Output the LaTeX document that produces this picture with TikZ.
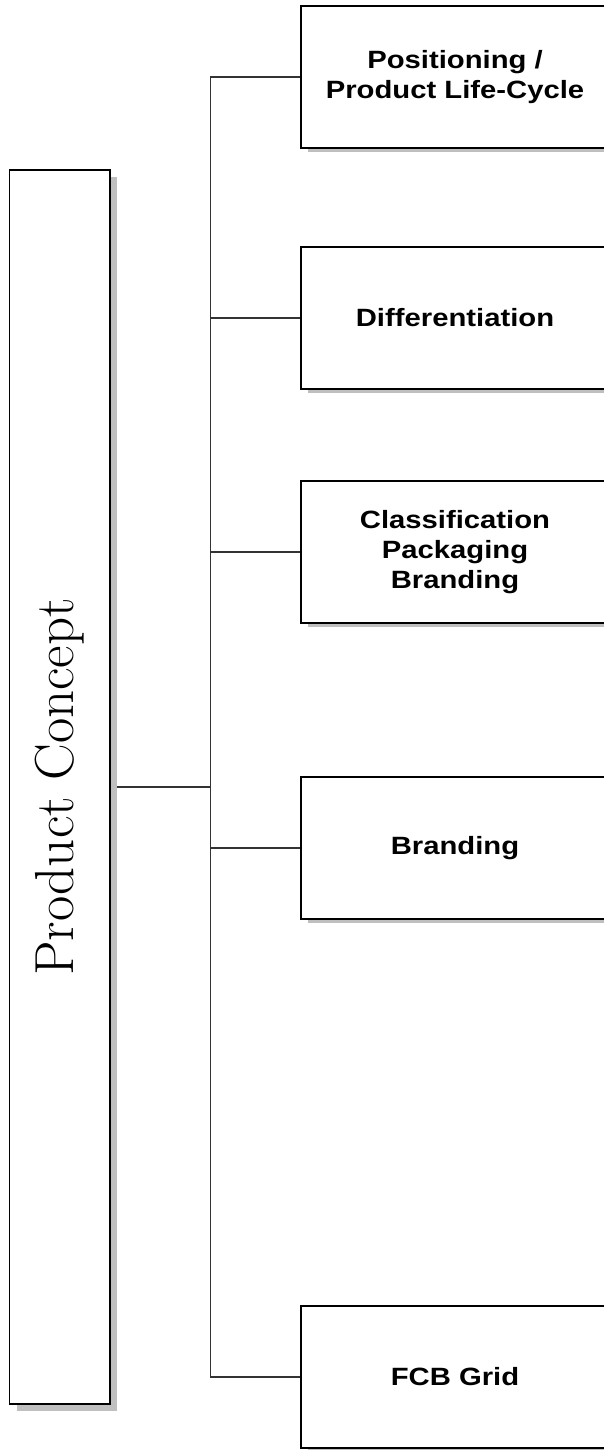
\documentclass[tikz,border=0pt]{standalone}
\usepackage{fontspec}
\newfontfamily\boxfont{Liberation Sans}[FakeStretch=1.17]
\usetikzlibrary{shadows,backgrounds}

\tikzset{
  item/.style={draw, line width=1.5pt, fill=white, minimum width=308pt, minimum height=142pt,
    align=center, font=\boxfont\bfseries\fontsize{25}{30}\selectfont,
    drop shadow={shadow xshift=7pt, shadow yshift=-4pt, fill=black!25, opacity=1}},
  concept/.style={draw, line width=1.5pt, fill=white, minimum width=100.5pt, minimum height=1234pt,
    inner sep=0pt, font=\fontsize{55}{66}\selectfont,
    drop shadow={shadow xshift=7pt, shadow yshift=-7pt, fill=black!25, opacity=1}},
  link/.style={draw=black!80, line width=1.3pt}
}

\begin{document}
\begin{tikzpicture}[x=1pt,y=-1pt]
  \useasboundingbox (0,0) rectangle (603,1450);

  \node[concept] (concept) at (59.75,787) {\rotatebox{90}{Product Concept}};

  \node[item] (pos)   at (455,77)    {Positioning /\\Product Life-Cycle};
  \node[item] (diff)  at (455,318)   {Differentiation};
  \node[item] (class) at (455,552)   {Classification\\Packaging\\Branding};
  \node[item] (brand) at (455,848)   {Branding};
  \node[item] (fcb)   at (455,1377)  {FCB Grid};

  % tree lines behind the boxes and shadows
  \begin{scope}[on background layer]
    \coordinate (spine) at (210.5,0);
    \draw[link] (pos.west) -| (spine |- fcb.west) -- (fcb.west);
    \foreach \b in {diff,class,brand}
      \draw[link] (\b.west) -- (\b.west -| spine);
    \draw[link] (concept.east) -- (concept.east -| spine);
  \end{scope}
\end{tikzpicture}
\end{document}
